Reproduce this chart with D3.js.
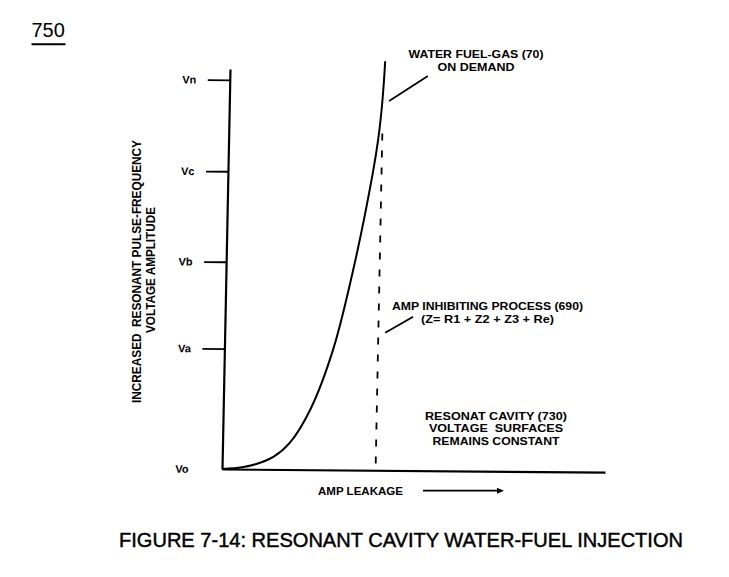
<!DOCTYPE html>
<html>
<head>
<meta charset="utf-8">
<script src="https://cdn.jsdelivr.net/npm/d3@7"></script>
<style>
  body { margin: 0; background: #fff; }
  text { font-family: "Liberation Sans", Arial, Helvetica, sans-serif; fill: #000; white-space: pre; }
</style>
</head>
<body>
<div id="plot"></div>
<script>
// values (voltage in arbitrary units, leakage in % of axis)
const voltageLabels = ["Vo", "Va", "Vb", "Vc", "Vn"];
const voltageTicks = [0, 1.33, 2.29, 3.29, 4.30];
const leakage = [0, 5.22, 9.14, 13.32, 17.6, 22.72, 28.36, 33.42, 37.86, 39.03, 39.82, 40.26, 40.47];
const voltage = [0, 0.020, 0.061, 0.138, 0.298, 0.663, 1.326, 2.254, 3.293, 3.646, 4.0, 4.309, 4.519];
const inhibitLeakage = 40.1;
const inhibitVoltage = [0, 3.72];

// texts
const pageNumber = "750";
const yTitle = ["INCREASED  RESONANT PULSE-FREQUENCY", "VOLTAGE AMPLITUDE"];
const xTitle = "AMP LEAKAGE";
const fuelGasText = ["WATER FUEL-GAS (70)", "ON DEMAND"];
const inhibitText = ["AMP INHIBITING PROCESS (690)", "(Z= R1 + Z2 + Z3 + Re)"];
const cavityText = ["RESONAT CAVITY (730)", "VOLTAGE  SURFACES", "REMAINS CONSTANT"];
const caption = "FIGURE 7-14: RESONANT CAVITY WATER-FUEL INJECTION";

const w = 729, h = 577;

var svg = d3.select("div#plot")
  .append("svg")
    .attr("width", w)
    .attr("height", h);

svg.append("rect").attr("width", w).attr("height", h).attr("fill", "#fff");

// scales
var x = d3.scaleLinear().domain([0, 100]).range([0, 383]);
var y = d3.scaleLinear().domain([0, 4.42]).range([0, -400]);

// the scanned drawing is slightly skewed, so the plot group is too
var plot = svg.append("g")
  .attr("transform", "translate(222,469) matrix(1,0.008,-0.02,1,0,0)");

// y axis
var yAxis = plot.append("g")
  .call(d3.axisLeft(y)
    .tickValues(voltageTicks)
    .tickFormat((d, i) => voltageLabels[i])
    .tickSize(22)
    .tickPadding(11.5)
    .tickSizeOuter(0));
yAxis.attr("font-family", null).attr("font-size", null);
yAxis.select(".domain").attr("stroke-width", 2.2);
yAxis.selectAll(".tick line").attr("stroke-width", 1.8);
yAxis.selectAll(".tick").filter(d => d === 0).select("line").remove();
yAxis.selectAll(".tick text")
  .style("font-size", "11px")
  .style("font-weight", "bold");

// x axis
var xAxis = plot.append("g")
  .call(d3.axisBottom(x).tickValues([]).tickSizeOuter(0));
xAxis.select(".domain").attr("stroke-width", 2.2);

// curve
var line = d3.line()
  .x((d, i) => x(leakage[i]))
  .y(d => y(d))
  .curve(d3.curveCatmullRom.alpha(0.5));

plot.append("path")
  .datum(voltage)
  .attr("d", line)
  .attr("fill", "none")
  .attr("stroke", "#000")
  .attr("stroke-width", 2);

// inhibiting process limit
plot.append("line")
  .attr("x1", x(inhibitLeakage)).attr("x2", x(inhibitLeakage))
  .attr("y1", y(inhibitVoltage[1])).attr("y2", y(inhibitVoltage[0]))
  .attr("stroke", "#000")
  .attr("stroke-width", 1.8)
  .attr("stroke-dasharray", "7,10");

// leader lines
plot.append("line")
  .attr("x1", x(41.7)).attr("y1", y(4.08))
  .attr("x2", x(51.7)).attr("y2", y(4.36))
  .attr("stroke", "#000").attr("stroke-width", 1.8);

plot.append("line")
  .attr("x1", x(41.9)).attr("y1", y(1.52))
  .attr("x2", x(49.1)).attr("y2", y(1.70))
  .attr("stroke", "#000").attr("stroke-width", 1.8);

// helper for centred text blocks
function block(lines, cx, baselines, widths, size) {
  lines.forEach((t, i) => {
    svg.append("text")
      .attr("x", cx)
      .attr("y", baselines[i])
      .attr("text-anchor", "middle")
      .attr("textLength", widths[i])
      .attr("lengthAdjust", "spacingAndGlyphs")
      .style("font-size", size + "px")
      .style("font-weight", "bold")
      .text(t);
  });
}

block(fuelGasText, 476, [58, 70.5], [135, 77], 10.5);
block(inhibitText, 487.5, [310, 323], [191, 133], 11.2);
block(cavityText, 496, [419.5, 432, 444.5], [142, 134, 127], 11);

// y title
yTitle.forEach((t, i) => {
  svg.append("text")
    .attr("transform", `translate(${141 + i * 13.5}, ${271.5 - i * 1.5}) rotate(-90)`)
    .attr("text-anchor", "middle")
    .attr("textLength", i === 0 ? 263 : 126)
    .attr("lengthAdjust", "spacingAndGlyphs")
    .style("font-size", "12.5px")
    .style("font-weight", "bold")
    .text(t);
});

// x title and arrow
svg.append("text")
  .attr("x", 318).attr("y", 495)
  .attr("textLength", 85)
  .attr("lengthAdjust", "spacingAndGlyphs")
  .style("font-size", "11.5px")
  .style("font-weight", "bold")
  .text(xTitle);

svg.append("line")
  .attr("x1", 423).attr("x2", 499)
  .attr("y1", 490.7).attr("y2", 490.7)
  .attr("stroke", "#000").attr("stroke-width", 1.8);
svg.append("path")
  .attr("d", "M497,487.7L504,490.7L497,493.7Z")
  .attr("fill", "#000");

// page number
svg.append("text")
  .attr("x", 31.5).attr("y", 37.3)
  .style("font-size", "20px")
  .text(pageNumber);
svg.append("line")
  .attr("x1", 31.5).attr("x2", 65.5)
  .attr("y1", 44.3).attr("y2", 44.3)
  .attr("stroke", "#000").attr("stroke-width", 2);

// caption
svg.append("text")
  .attr("x", 119).attr("y", 547)
  .attr("textLength", 564)
  .attr("lengthAdjust", "spacingAndGlyphs")
  .style("font-size", "20px")
  .style("stroke", "#000")
  .style("stroke-width", "0.45px")
  .text(caption);
</script>
</body>
</html>
